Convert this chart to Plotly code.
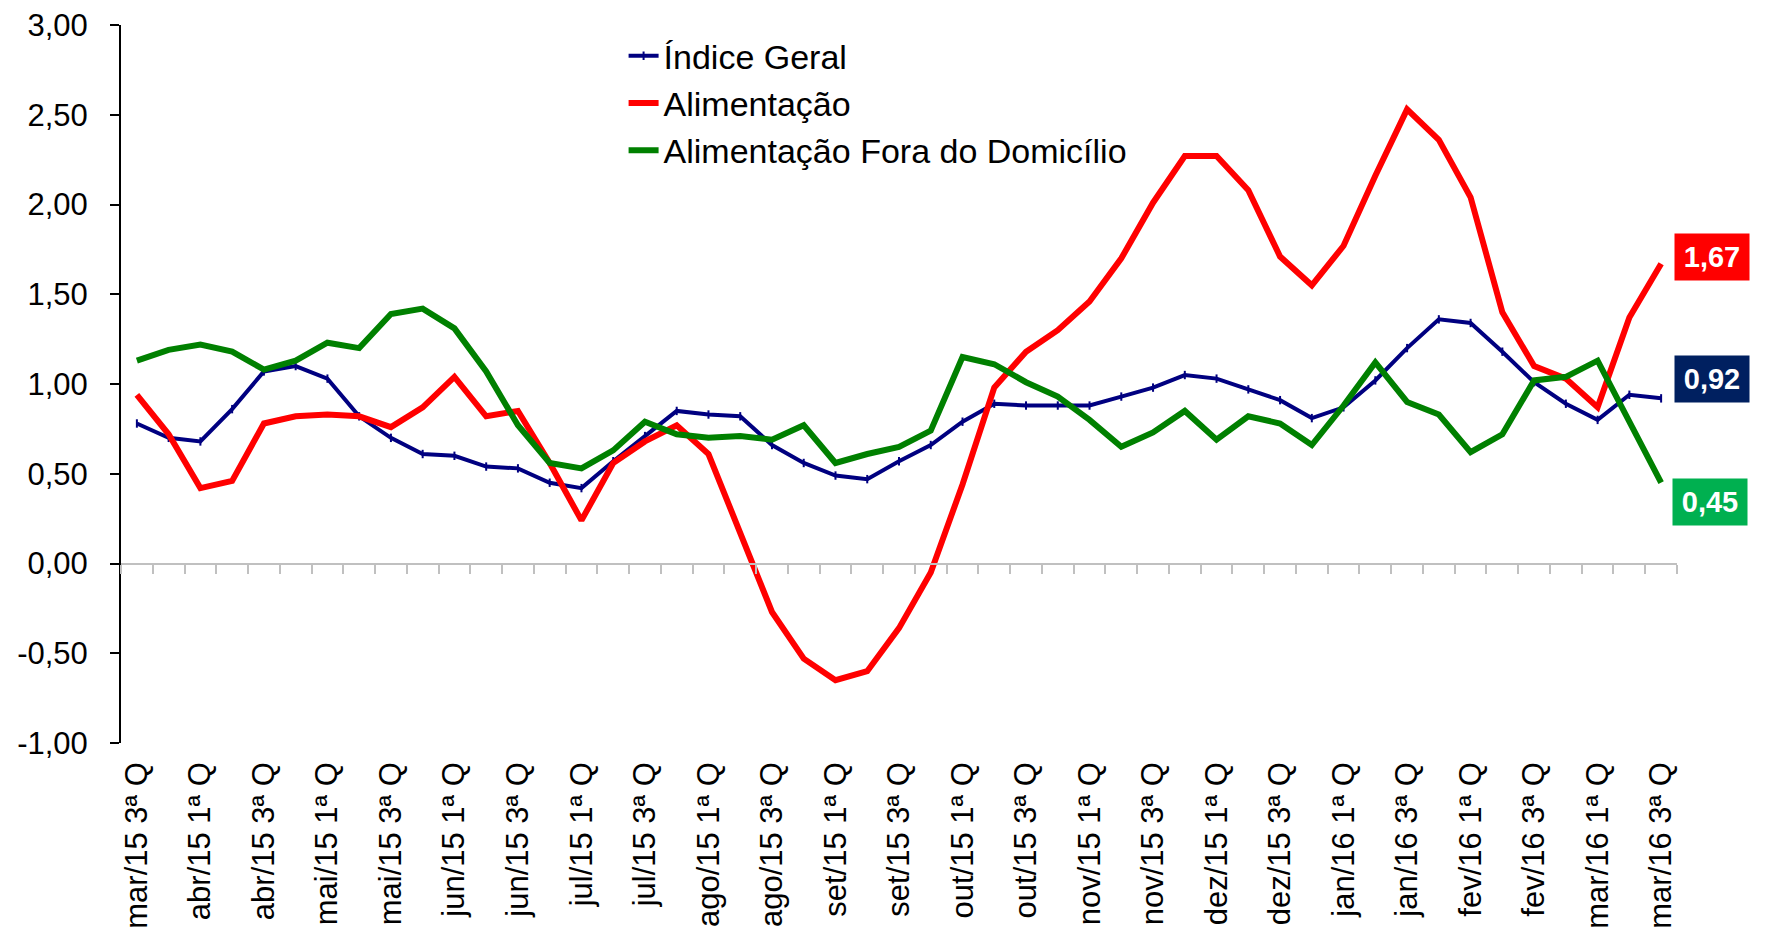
import plotly.graph_objects as go

# IPC quadrissemanal, mar/15 3ª Q .. mar/16 3ª Q
categories = [
    "mar/15 3ª Q", "mar/15",
    "abr/15 1ª Q", "abr/15 2ª Q", "abr/15 3ª Q", "abr/15",
    "mai/15 1ª Q", "mai/15 2ª Q", "mai/15 3ª Q", "mai/15",
    "jun/15 1ª Q", "jun/15 2ª Q", "jun/15 3ª Q", "jun/15",
    "jul/15 1ª Q", "jul/15 2ª Q", "jul/15 3ª Q", "jul/15",
    "ago/15 1ª Q", "ago/15 2ª Q", "ago/15 3ª Q", "ago/15",
    "set/15 1ª Q", "set/15 2ª Q", "set/15 3ª Q", "set/15",
    "out/15 1ª Q", "out/15 2ª Q", "out/15 3ª Q", "out/15",
    "nov/15 1ª Q", "nov/15 2ª Q", "nov/15 3ª Q", "nov/15",
    "dez/15 1ª Q", "dez/15 2ª Q", "dez/15 3ª Q", "dez/15",
    "jan/16 1ª Q", "jan/16 2ª Q", "jan/16 3ª Q", "jan/16",
    "fev/16 1ª Q", "fev/16 2ª Q", "fev/16 3ª Q", "fev/16",
    "mar/16 1ª Q", "mar/16 2ª Q", "mar/16 3ª Q",
]
tick_labels = categories[::2]

indice_geral = [
    0.78, 0.70, 0.68, 0.86, 1.07, 1.10, 1.03, 0.82, 0.70, 0.61, 0.60, 0.54, 0.53, 0.45,
    0.42, 0.57, 0.71, 0.85, 0.83, 0.82, 0.66, 0.56, 0.49, 0.47, 0.57, 0.66, 0.79, 0.89,
    0.88, 0.88, 0.88, 0.93, 0.98, 1.05, 1.03, 0.97, 0.91, 0.81, 0.87, 1.02, 1.20, 1.36,
    1.34, 1.18, 1.01, 0.89, 0.80, 0.94, 0.92,
]
alimentacao = [
    0.94, 0.72, 0.42, 0.46, 0.78, 0.82, 0.83, 0.82, 0.76, 0.87, 1.04, 0.82, 0.85, 0.56,
    0.24, 0.56, 0.68, 0.77, 0.61, 0.18, -0.27, -0.53, -0.65, -0.60, -0.36, -0.05, 0.44, 0.98,
    1.18, 1.30, 1.46, 1.70, 2.01, 2.27, 2.27, 2.08, 1.71, 1.55, 1.77, 2.16, 2.53, 2.36,
    2.04, 1.40, 1.10, 1.03, 0.87, 1.37, 1.67,
]
fora_domicilio = [
    1.13, 1.19, 1.22, 1.18, 1.08, 1.13, 1.23, 1.20, 1.39, 1.42, 1.31, 1.07, 0.77, 0.56,
    0.53, 0.63, 0.79, 0.72, 0.70, 0.71, 0.69, 0.77, 0.56, 0.61, 0.65, 0.74, 1.15, 1.11,
    1.01, 0.93, 0.80, 0.65, 0.73, 0.85, 0.69, 0.82, 0.78, 0.66, 0.88, 1.12, 0.90, 0.83,
    0.62, 0.72, 1.02, 1.04, 1.13, 0.79, 0.45,
]

ytick_vals = [-1.0, -0.5, 0.0, 0.5, 1.0, 1.5, 2.0, 2.5, 3.0]
ytick_text = ["-1,00", "-0,50", "0,00", "0,50", "1,00", "1,50", "2,00", "2,50", "3,00"]

FONT = "Arial, 'Liberation Sans', sans-serif"
NAVY = "#000080"
RED = "#FF0000"
GREEN = "#008000"

fig = go.Figure()
fig.add_trace(go.Scatter(
    x=categories, y=indice_geral, name="Índice Geral", mode="lines+markers",
    line=dict(color=NAVY, width=4),
    marker=dict(symbol="line-ns", size=6, line=dict(color=NAVY, width=2)),
))
fig.add_trace(go.Scatter(
    x=categories, y=alimentacao, name="Alimentação", mode="lines",
    line=dict(color=RED, width=6),
))
fig.add_trace(go.Scatter(
    x=categories, y=fora_domicilio, name="Alimentação Fora do Domicílio", mode="lines",
    line=dict(color=GREEN, width=6),
))
# empty trace so the zero-crossing category axis (x2) gets drawn
fig.add_trace(go.Scatter(x=[], y=[], xaxis="x2", showlegend=False, hoverinfo="skip"))

# end-of-series value boxes
boxes = [
    (alimentacao, "#FF0000", 51, 7),
    (indice_geral, "#002060", 51, 19),
    (fora_domicilio, "#00B050", 49, -19),
]
for values, color, dx, dy in boxes:
    fig.add_annotation(
        x=categories[-1], y=values[-1], xref="x", yref="y",
        text="<b>" + f"{values[-1]:.2f}".replace(".", ",") + "</b>",
        showarrow=False, xshift=dx, yshift=dy,
        bgcolor=color, width=72, height=44,
        font=dict(family=FONT, size=29, color="white"),
    )

n = len(categories)
fig.update_layout(
    width=1766, height=932,
    margin=dict(l=113, r=97, t=17, b=197),
    plot_bgcolor="white", paper_bgcolor="white",
    font=dict(family=FONT, color="black"),
    legend=dict(
        x=0.323, y=0.997, xanchor="left", yanchor="top",
        font=dict(size=34, family=FONT), bgcolor="rgba(0,0,0,0)",
    ),
    xaxis=dict(
        type="category", range=[-0.5, n - 0.5],
        tickvals=tick_labels, ticktext=tick_labels, tickangle=-90,
        tickfont=dict(size=31), showline=False, ticks="", showgrid=False,
        zeroline=False, ticklabelstandoff=12, automargin=False,
        ticklabeloverflow="allow",
    ),
    xaxis2=dict(
        overlaying="x", anchor="free", position=0.25, side="bottom",
        range=[-0.5, n - 0.5], tickvals=[k - 0.5 for k in range(n + 1)],
        showticklabels=False, ticks="outside", ticklen=9, tickwidth=2,
        tickcolor="#C0C0C0", showline=True, linecolor="#C0C0C0", linewidth=2,
        showgrid=False, zeroline=False, automargin=False,
    ),
    yaxis=dict(
        range=[-1, 3], tickvals=ytick_vals, ticktext=ytick_text,
        tickfont=dict(size=31), ticks="outside", ticklen=9, tickwidth=2,
        tickcolor="black", showline=True, linecolor="black", linewidth=2,
        showgrid=False, zeroline=False, ticklabelstandoff=16, automargin=False,
        ticklabeloverflow="allow",
    ),
)

fig.write_html("out.html")
